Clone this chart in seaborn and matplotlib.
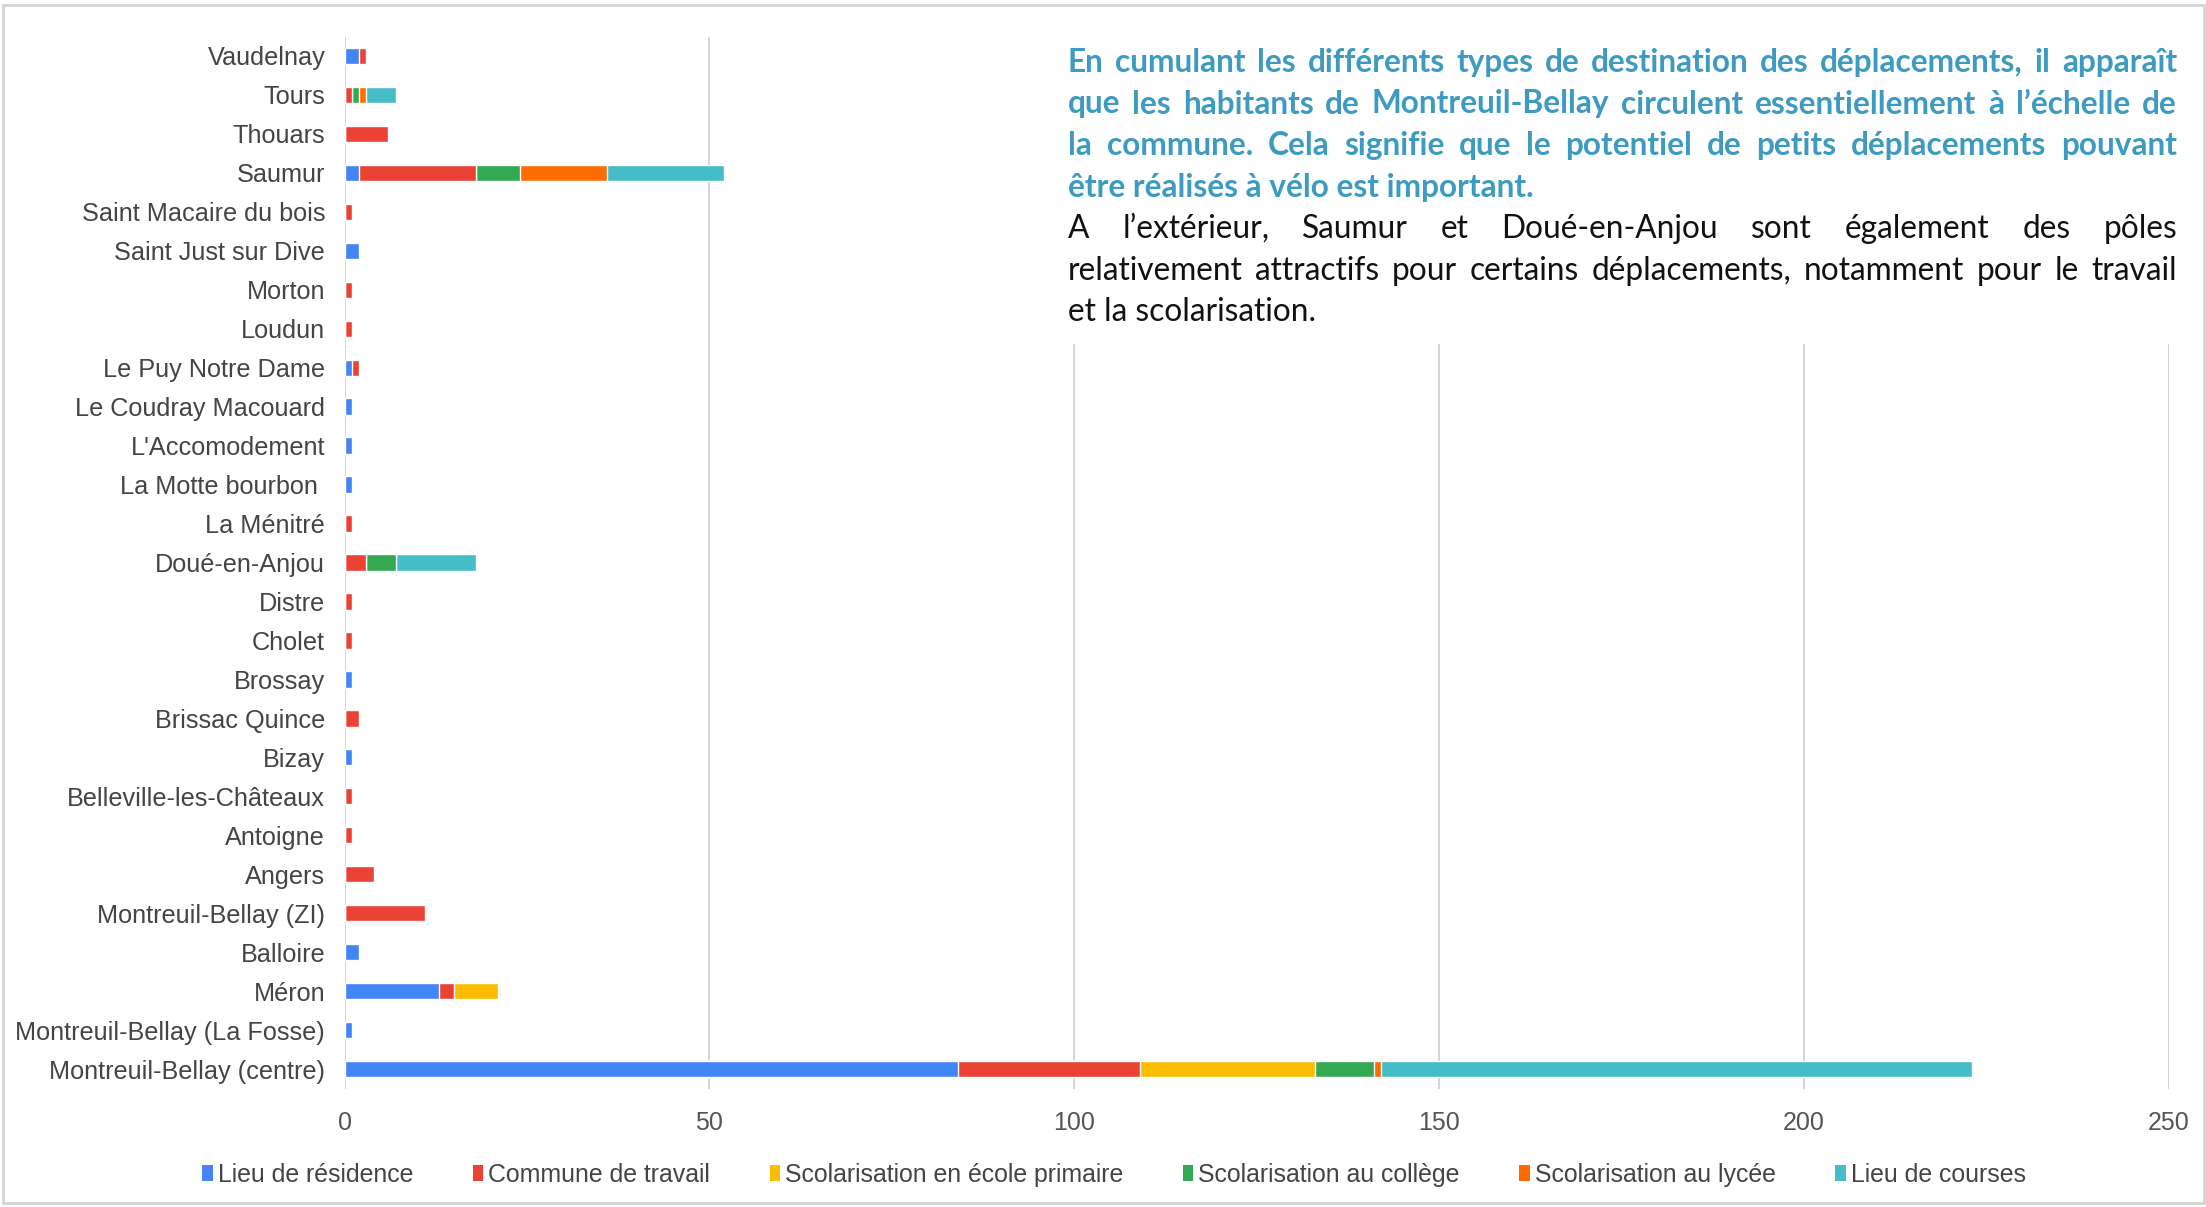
import matplotlib
matplotlib.use("Agg")
import matplotlib.pyplot as plt
from matplotlib.patches import Patch, Rectangle
import pandas as pd
import seaborn as sns

# destinations, listed top to bottom as in the chart
communes = ["Vaudelnay", "Tours", "Thouars", "Saumur", "Saint Macaire du bois",
            "Saint Just sur Dive", "Morton", "Loudun", "Le Puy Notre Dame",
            "Le Coudray Macouard", "L'Accomodement", "La Motte bourbon ",
            "La Ménitré", "Doué-en-Anjou", "Distre", "Cholet", "Brossay",
            "Brissac Quince", "Bizay", "Belleville-les-Châteaux", "Antoigne",
            "Angers", "Montreuil-Bellay (ZI)", "Balloire", "Méron",
            "Montreuil-Bellay (La Fosse)", "Montreuil-Bellay (centre)"]

residence = [2, 0, 0, 2, 0, 2, 0, 0, 1, 1, 1, 1, 0, 0, 0, 0, 1, 0, 1, 0, 0, 0, 0, 2, 13, 1, 84]
travail   = [1, 1, 6, 16, 1, 0, 1, 1, 1, 0, 0, 0, 1, 3, 1, 1, 0, 2, 0, 1, 1, 4, 11, 0, 2, 0, 25]
primaire  = [0, 0, 0, 0, 0, 0, 0, 0, 0, 0, 0, 0, 0, 0, 0, 0, 0, 0, 0, 0, 0, 0, 0, 0, 6, 0, 24]
college   = [0, 1, 0, 6, 0, 0, 0, 0, 0, 0, 0, 0, 0, 4, 0, 0, 0, 0, 0, 0, 0, 0, 0, 0, 0, 0, 8]
lycee     = [0, 1, 0, 12, 0, 0, 0, 0, 0, 0, 0, 0, 0, 0, 0, 0, 0, 0, 0, 0, 0, 0, 0, 0, 0, 0, 1]
courses   = [0, 4, 0, 16, 0, 0, 0, 0, 0, 0, 0, 0, 0, 11, 0, 0, 0, 0, 0, 0, 0, 0, 0, 0, 0, 0, 81]

series_names = ["Lieu de résidence", "Commune de travail", "Scolarisation en école primaire",
                "Scolarisation au collège", "Scolarisation au lycée", "Lieu de courses"]
colors = ["#4285F4", "#EA4335", "#FBBC04", "#34A853", "#FF6D01", "#46BDC6"]

blue_lines = ["En cumulant les différents types de destination des déplacements, il apparaît",
              "que les habitants de Montreuil-Bellay circulent essentiellement à l’échelle de",
              "la commune. Cela signifie que le potentiel de petits déplacements pouvant",
              "être réalisés à vélo est important."]
black_lines = ["A l’extérieur, Saumur et Doué-en-Anjou sont également des pôles",
               "relativement attractifs pour certains déplacements, notamment pour le travail",
               "et la scolarisation."]

df = pd.DataFrame({"commune": communes})
for name, vals in zip(series_names, [residence, travail, primaire, college, lycee, courses]):
    df[name] = vals
cum = df[series_names].cumsum(axis=1)

sns.set_style("white")
plt.rcParams["font.family"] = ["Liberation Sans", "DejaVu Sans"]

W, H = 2206, 1207
fig = plt.figure(figsize=(W / 100, H / 100), dpi=100)
ax = fig.add_axes([344.6 / W, 1 - 1088.5 / H, (2168.9 - 344.6) / W, (1088.5 - 36.5) / H])

# stacked bars: draw cumulative totals from the last series back to the first
for name, col in reversed(list(zip(series_names, colors))):
    sns.barplot(x=cum[name], y=df["commune"], color=col, saturation=1, width=0.42,
                orient="h", ax=ax, zorder=2)

ax.set_xlim(0, 250)
ax.set_xticks(range(0, 251, 50))
ax.xaxis.grid(True, color="#d0d0d0", lw=1.3)
ax.yaxis.grid(False)
ax.set_axisbelow(True)
sns.despine(ax=ax, left=True, bottom=True)
ax.set_xlabel("")
ax.set_ylabel("")
ax.tick_params(axis="y", length=0, labelsize=18.2, colors="#444444", pad=14)
ax.tick_params(axis="x", length=0, labelsize=18, colors="#555555", pad=16)

handles = [Patch(facecolor=c, edgecolor="none") for c in colors]
leg = fig.legend(handles, series_names, loc="center", bbox_to_anchor=(1114 / W, 1 - 1175 / H),
                 ncol=6, frameon=False, fontsize=17.9, handlelength=0.42, handleheight=0.6,
                 handletextpad=0.2, columnspacing=2.4)
for t in leg.get_texts():
    t.set_color("#444444")

# white text box on top of the upper right of the chart
fig.add_artist(Rectangle((1040 / W, 1 - 344 / H), (W - 1045) / W, (344 - 9) / H,
                         transform=fig.transFigure, facecolor="white", edgecolor="none", zorder=5))
fig.add_artist(Rectangle((3 / W, 1 - 1203 / H), (2204 - 3) / W, (1203 - 5) / H,
                         transform=fig.transFigure, facecolor="none", edgecolor="#d4d4d4",
                         lw=2, zorder=6))

renderer = fig.canvas.get_renderer()
x0, x1 = 1068, 2177


def text_width(s, size, weight):
    t = fig.text(0, 0, s, fontsize=size, fontweight=weight, family=["Lato", "DejaVu Sans"])
    w = t.get_window_extent(renderer).width
    t.remove()
    return w


# largest size at which every justified line still fits the column
fs_b = min((x1 - x0 - 30) / text_width(s, 20, "bold") * 20 for s in blue_lines[:3])
fs_r = min((x1 - x0 - 30) / text_width(s, 20, "normal") * 20 for s in black_lines[:2])
fs = min(fs_b, fs_r, 23.5)


def put_line(s, y_base, justify, color, weight):
    y = 1 - y_base / H
    kw = dict(fontsize=fs, fontweight=weight, color=color, ha="left", va="baseline",
              family=["Lato", "DejaVu Sans"], zorder=7)
    if not justify:
        fig.text(x0 / W, y, s, **kw)
        return
    words = s.split()
    arts = [fig.text(0, y, w, **kw) for w in words]
    widths = [a.get_window_extent(renderer).width for a in arts]
    gap = ((x1 - x0) - sum(widths)) / (len(words) - 1)
    x = x0
    for a, w in zip(arts, widths):
        a.set_x(x / W)
        x += w + gap


baselines = [72, 113.5, 155, 196.5, 238, 279.5, 321]
lines = [(s, "#3d9bc1", "bold") for s in blue_lines] + [(s, "#111111", "normal") for s in black_lines]
for i, ((s, c, wt), yb) in enumerate(zip(lines, baselines)):
    put_line(s, yb, i not in (3, 6), c, wt)

fig.savefig("out.png", dpi=100, facecolor="white")
